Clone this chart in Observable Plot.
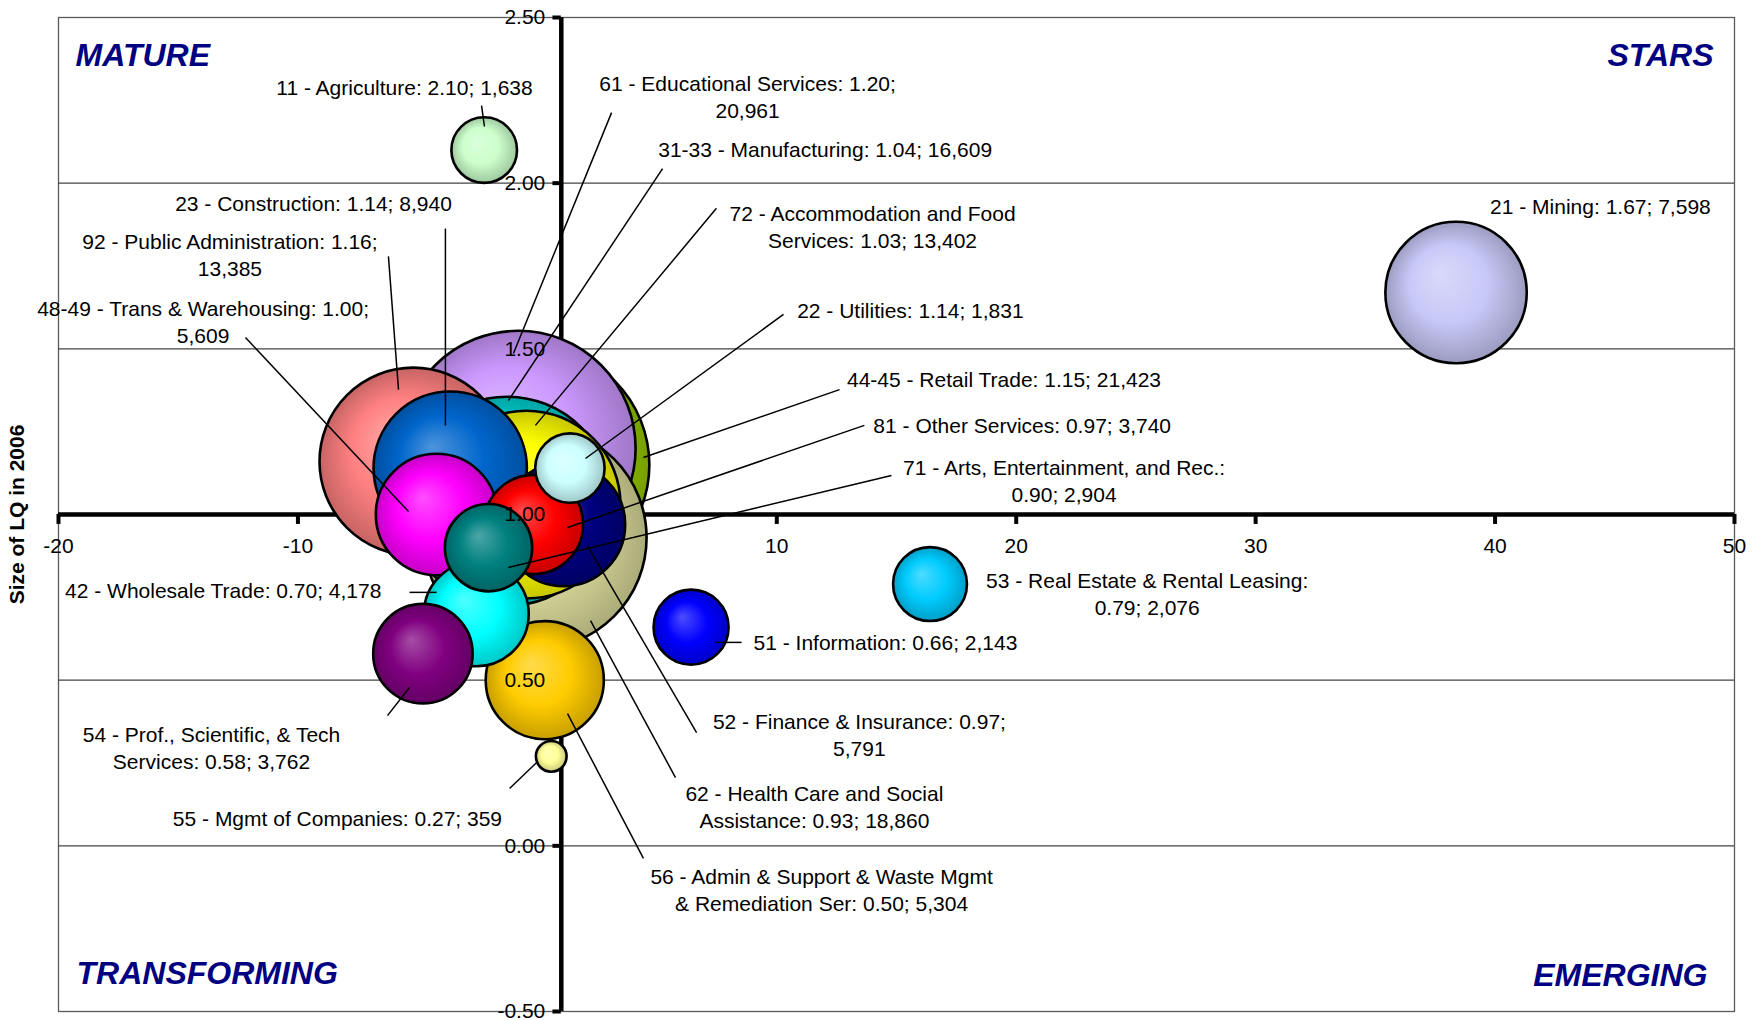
<!DOCTYPE html>
<html><head><meta charset="utf-8">
<script src="https://cdn.jsdelivr.net/npm/d3@7"></script>
<script src="https://cdn.jsdelivr.net/npm/@observablehq/plot@0.6"></script>
<style>body{margin:0;background:#fff;}</style>
</head><body><div id="chart"></div>
<script>
// ---- data ----
const codes = ["11","21","22","23","31-33","42","44-45","48-49","51","52","53","54","55","56","61","62","71","72","81","92"];
const names = ["Agriculture","Mining","Utilities","Construction","Manufacturing","Wholesale Trade","Retail Trade","Trans & Warehousing","Information","Finance & Insurance","Real Estate & Rental Leasing","Prof., Scientific, & Tech Services","Mgmt of Companies","Admin & Support & Waste Mgmt & Remediation Ser","Educational Services","Health Care and Social Assistance","Arts, Entertainment, and Rec.","Accommodation and Food Services","Other Services","Public Administration"];
const lq  = [2.10,1.67,1.14,1.14,1.04,0.70,1.15,1.00,0.66,0.97,0.79,0.58,0.27,0.50,1.20,0.93,0.90,1.03,0.97,1.16];
const emp = [1638,7598,1831,8940,16609,4178,21423,5609,2143,5791,2076,3762,359,5304,20961,18860,2904,13402,3740,13385];
const change = [-2.22,38.37,1.36,-3.64,-1.26,-2.55,-0.28,-4.21,6.42,1.09,16.4,-4.78,0.58,0.31,-0.8,-0.09,-2.04,-0.45,-0.16,-5.18];
const colors = ["#CCFFCC","#C8C8F8","#CCFFFF","#0066CC","#00D4D4","#00FFFF","#99CC00","#FF00FF","#0000FF","#000080","#00CCFF","#800080","#FFFF99","#FFCC00","#CC99FF","#DCDC9C","#008080","#FFFF00","#FF0000","#FF8080"];
// label layout (words on first line; 0 = single line)
const labelBreak = [0,0,0,0,0,0,0,6,0,6,7,6,0,8,5,6,6,5,0,5];
const labelX = [-5.55,44.4,15.58,-9.35,12.02,-13.12,19.49,-13.96,14.54,13.45,25.47,-13.61,-8.35,11.87,8.78,11.57,22.0,14.0,20.25,-12.84];
const labelY = [2.2646,1.9069,1.594,1.916,2.079,0.748,1.3848,1.5161,0.5917,0.2711,0.6967,0.2328,0.0598,-0.1967,2.1967,0.0538,1.0386,1.8043,1.246,1.7198];
const leaders = [
  [-2.33,2.234,-2.21,2.171], null, [10.28,1.604,2.01,1.169], [-3.84,1.863,-3.84,1.269],
  [5.23,2.044,-1.21,1.344], [-5.34,0.765,-4.21,0.765], [12.62,1.377,4.43,1.172], [-12.19,1.534,-5.38,1.009],
  [7.44,0.614,8.53,0.614], [6.65,0.342,2.09,0.906], null, [-6.26,0.393,-5.34,0.478],
  [-1.16,0.173,-0.04,0.251], [4.43,-0.038,1.26,0.399], [3.10,2.213,-1.00,1.486], [5.77,0.206,2.22,0.680],
  [14.79,1.118,-1.21,0.840], [7.48,1.924,-0.08,1.269], [13.66,1.269,1.26,0.961], [-6.22,1.779,-5.80,1.377]
];
const xTicks = [-20,-10,0,10,20,30,40,50];
const yTicks = [-0.5,0,0.5,1,1.5,2,2.5];
const gridY = [0,0.5,1.5,2];
const axisY = 1;   // horizontal axis crosses at LQ = 1
const axisX = 1;   // vertical axis crossing
const yTitle = "Size of LQ in 2006";
const quadrants = ["MATURE","STARS","TRANSFORMING","EMERGING"];

// ---- build ----
const idx = d3.range(codes.length);
const fmt = d3.format(",");
const labelText = idx.map(i => {
  const w = `${codes[i]} - ${names[i]}: ${lq[i].toFixed(2)}; ${fmt(emp[i])}`.split(" ");
  const b = labelBreak[i];
  return b ? w.slice(0, b).join(" ") + "\n" + w.slice(b).join(" ") : w.join(" ");
});
const leadIdx = idx.filter(i => leaders[i]);
const FONT = "'Liberation Sans', Arial, Helvetica, sans-serif";
const quadStyle = {fill: "#000080", fontSize: 32, fontWeight: "bold", fontStyle: "italic", lineAnchor: "bottom"};

const chart = Plot.plot({
  width: 1758, height: 1020,
  marginLeft: 58, marginRight: 24, marginTop: 17, marginBottom: 9,
  x: {domain: [-20, 50], axis: null},
  y: {domain: [-0.5, 2.5], axis: null},
  r: {type: "sqrt", domain: [0, 21423], range: [0, 118.7]},
  color: {type: "identity"},
  style: {fontFamily: FONT, fontSize: "21px", background: "#fff", overflow: "visible"},
  marks: [
    Plot.frame({stroke: "#5a5a5a", strokeWidth: 1.3}),
    Plot.ruleY(gridY, {stroke: "#444", strokeWidth: 1.3}),
    Plot.ruleY([axisY], {stroke: "#000", strokeWidth: 4.5}),
    Plot.ruleX(xTicks, {y1: axisY, y2: axisY - 0.03, stroke: "#000", strokeWidth: 4}),
    Plot.ruleX([axisX], {stroke: "#000", strokeWidth: 4.5}),
    Plot.ruleY(yTicks, {x1: axisX, x2: axisX - 0.35, stroke: "#000", strokeWidth: 4}),
    Plot.text(xTicks, {x: d => d, y: axisY, dy: 38, lineAnchor: "bottom", text: d => String(d), fontSize: 21}),
    Plot.dot(idx, {x: i => change[i], y: i => lq[i], r: i => emp[i], fill: i => `url(#bub${i})`, stroke: "#000", strokeWidth: 2.6}),
    Plot.link(leadIdx, {x1: i => leaders[i][0], y1: i => leaders[i][1], x2: i => leaders[i][2], y2: i => leaders[i][3], stroke: "#000", strokeWidth: 1.5}),
    Plot.text(yTicks, {x: axisX, y: d => d, dx: -16, textAnchor: "end", lineAnchor: "middle", text: d => d.toFixed(2), fontSize: 21}),
    Plot.text(idx, {x: i => labelX[i], y: i => labelY[i], text: i => labelText[i], lineAnchor: "bottom", lineHeight: 1.29, fontSize: 21, fill: "#000"}),
    Plot.text([quadrants[0]], {frameAnchor: "top-left", textAnchor: "start", dx: 17, dy: 48, ...quadStyle}),
    Plot.text([quadrants[1]], {frameAnchor: "top-right", textAnchor: "end", dx: -21, dy: 48, ...quadStyle}),
    Plot.text([quadrants[2]], {frameAnchor: "bottom-left", textAnchor: "start", dx: 18, dy: -28, ...quadStyle}),
    Plot.text([quadrants[3]], {frameAnchor: "bottom-right", textAnchor: "end", dx: -27, dy: -26, ...quadStyle}),
    Plot.text([yTitle], {frameAnchor: "left", dx: -41, rotate: -90, textAnchor: "middle", lineAnchor: "middle", fontWeight: "bold", fontSize: 21})
  ]
});

// 3-D style radial gradients for bubbles
const defs = d3.select(chart).insert("defs", ":first-child");
idx.forEach(i => {
  const c = d3.rgb(colors[i]);
  const g = defs.append("radialGradient").attr("id", `bub${i}`)
    .attr("cx", "50%").attr("cy", "50%").attr("r", "50%").attr("fx", "38%").attr("fy", "36%");
  g.append("stop").attr("offset", "0%").attr("stop-color", d3.interpolateRgb(c, "#fff")(0.3));
  g.append("stop").attr("offset", "55%").attr("stop-color", c.formatHex());
  g.append("stop").attr("offset", "100%").attr("stop-color", c.darker(0.7).formatHex());
});
document.getElementById("chart").appendChild(chart);
</script>
</body></html>
